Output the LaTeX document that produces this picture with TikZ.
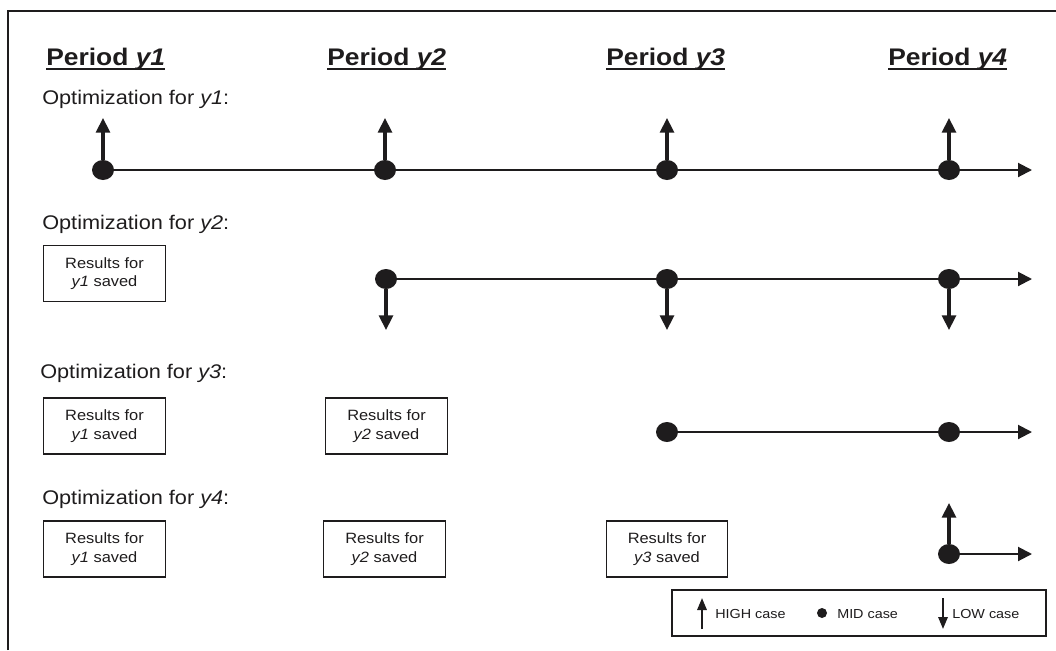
\documentclass[tikz,border=0pt]{standalone}
\usepackage{fontspec}
\setmainfont{Liberation Sans}[FakeStretch=1.1]
\usetikzlibrary{arrows.meta, shapes.geometric}

\definecolor{ink}{RGB}{30,28,29}

\tikzset{
  head/.style={inner sep=0pt, anchor=base west, text=ink, font=\bfseries\fontsize{18}{22}\selectfont},
  optlabel/.style={inner sep=0pt, anchor=base west, text=ink, font=\fontsize{14.8}{18}\selectfont},
  dot/.style={ellipse, fill=ink, inner sep=0pt, minimum width=16.5pt, minimum height=15pt},
  timeline/.style={ink, line width=1.5pt, -{Triangle[length=10.5pt,width=10.5pt]}},
  case/.style={ink, line width=2.3pt, -{Triangle[length=11pt,width=10.5pt]}},
  saved/.style={draw=ink, line width=0.9pt, text=ink, align=center, inner sep=0pt,
    minimum width=91pt, minimum height=42pt, font=\fontsize{11.2}{14}\selectfont},
  legtext/.style={inner sep=0pt, anchor=west, text=ink, font=\fontsize{9.8}{12}\selectfont},
  legarrow/.style={ink, line width=1.6pt, -{Triangle[length=9pt,width=7pt]}}
}

\begin{document}
\begin{tikzpicture}[x=0.75pt, y=-0.75pt]
\useasboundingbox (0,0) rectangle (1056,650);

% outer frame (top and left edge)
\draw[ink, line width=2pt] (8,650) -- (8,11) -- (1056,11);

% period headings, underlined
\foreach \i/\x in {1/46, 2/327, 3/606, 4/888} {
  \node[head] (p\i) at (\x,65) {Period \textit{y\i}};
  \draw[ink, line width=1.6pt] ([yshift=-3pt]p\i.base west) -- ([yshift=-3pt]p\i.base east);
}

% row titles
\foreach \i/\x/\y in {1/42/104, 2/42/229, 3/40/378, 4/42/504}
  \node[optlabel] (o\i) at (\x,\y) {Optimization for \textit{y\i}:};

% row 1: all four periods, HIGH cases
\foreach \j/\x in {1/103, 2/385, 3/667, 4/949}
  \node[dot] (a\j) at (\x,170) {};
\coordinate (a5) at (1032,170);
\draw[timeline] (a1) -- (a2) -- (a3) -- (a4) -- (a5);
\foreach \j in {1,...,4} {
  \path (a\j) ++(0,-52) coordinate (ua\j);
  \draw[case] (a\j) -- (ua\j);
}

% row 2: y2 to y4, LOW cases
\node[saved] (s21) at (104.5,273.5) {Results for\\\textit{y1} saved};
\foreach \j/\x in {2/386, 3/667, 4/949}
  \node[dot] (b\j) at (\x,279) {};
\coordinate (b5) at (1032,279);
\draw[timeline] (b2) -- (b3) -- (b4) -- (b5);
\foreach \j in {2,...,4} {
  \path (b\j) ++(0,51) coordinate (lb\j);
  \draw[case] (b\j) -- (lb\j);
}

% row 3: y3 to y4, MID only
\node[saved] (s31) at (104.5,426) {Results for\\\textit{y1} saved};
\node[saved] (s32) at (386.5,426) {Results for\\\textit{y2} saved};
\node[dot] (c3) at (667,432) {};
\node[dot] (c4) at (949,432) {};
\coordinate (c5) at (1032,432);
\draw[timeline] (c3) -- (c4) -- (c5);

% row 4: y4 only, HIGH case
\node[saved] (s41) at (104.5,549) {Results for\\\textit{y1} saved};
\node[saved] (s42) at (384.5,549) {Results for\\\textit{y2} saved};
\node[saved] (s43) at (667,549) {Results for\\\textit{y3} saved};
\node[dot] (d4) at (949,554) {};
\coordinate (d5) at (1032,554);
\coordinate (ud4) at (949,503);
\draw[timeline] (d4) -- (d5);
\draw[case] (d4) -- (ud4);

% legend
\node[draw=ink, line width=0.9pt, minimum width=280.5pt, minimum height=34.5pt, inner sep=0pt] (legend) at (859,613) {};
\coordinate (hi0) at (702,629);
\coordinate (hi1) at (702,598);
\draw[legarrow] (hi0) -- (hi1);
\node[legtext] (lhigh) at (715,614) {HIGH case};
\node[circle, fill=ink, inner sep=0pt, minimum size=7.5pt] (lmid0) at (822,613) {};
\node[legtext] (lmid) at (837,614) {MID case};
\coordinate (lo0) at (943,598);
\coordinate (lo1) at (943,629);
\draw[legarrow] (lo0) -- (lo1);
\node[legtext] (llow) at (952,614) {LOW case};
\end{tikzpicture}
\end{document}
